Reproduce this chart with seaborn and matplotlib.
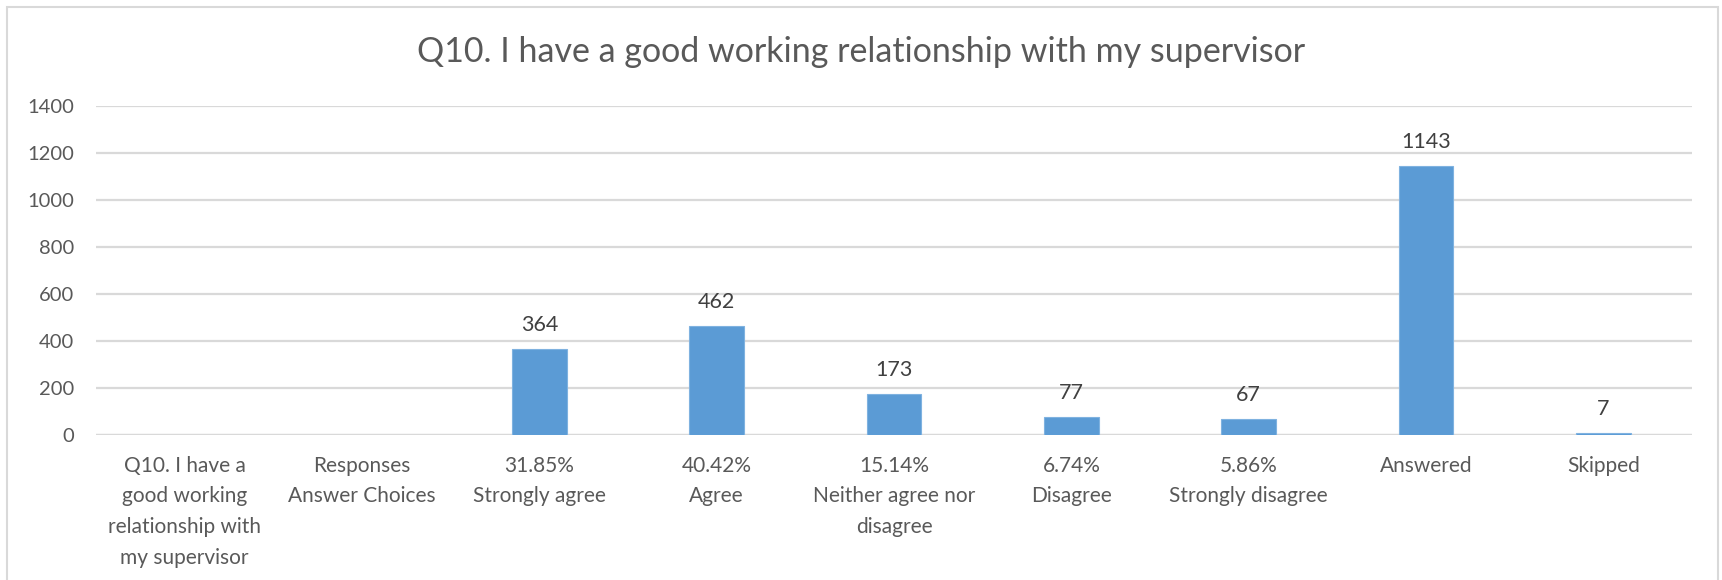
import numpy as np
import pandas as pd
import matplotlib
matplotlib.use("Agg")
import matplotlib.pyplot as plt
from matplotlib.patches import Rectangle
import seaborn as sns

# Survey summary for Q10
categories = [
    "Q10. I have a\ngood working\nrelationship with\nmy supervisor",
    "Responses\nAnswer Choices",
    "31.85%\nStrongly agree",
    "40.42%\nAgree",
    "15.14%\nNeither agree nor\ndisagree",
    "6.74%\nDisagree",
    "5.86%\nStrongly disagree",
    "Answered",
    "Skipped",
]
counts = [np.nan, np.nan, 364, 462, 173, 77, 67, 1143, 7]
y_ticks = [0, 200, 400, 600, 800, 1000, 1200, 1400]
title = "Q10. I have a good working relationship with my supervisor"

sns.set_theme(style="white")
plt.rcParams["font.family"] = ["Lato", "DejaVu Sans"]

W, H = 1722, 580
fig = plt.figure(figsize=(W / 100, H / 100), dpi=100)
ax = fig.add_axes([96 / W, 1 - 435 / H, (1692 - 96) / W, (435 - 106) / H])

df = pd.DataFrame({"category": categories, "count": counts})
sns.barplot(data=df, x="category", y="count", order=categories,
            color="#5b9bd5", saturation=1, width=0.31, ax=ax,
            edgecolor="#7fb2e0", linewidth=0.8, errorbar=None)

ax.set_ylim(0, 1400)
ax.set_yticks(y_ticks)
ax.set_xlim(-0.5, len(categories) - 0.5)
ax.yaxis.grid(True, color="#d9d9d9", linewidth=1.6)
ax.set_axisbelow(True)
for s in ax.spines.values():
    s.set_visible(False)
ax.axhline(0, color="#d9d9d9", linewidth=1.6, zorder=0.5)

ax.set_xlabel("")
ax.set_ylabel("")
ax.tick_params(axis="both", length=0, labelcolor="#595959", labelsize=15)
ax.tick_params(axis="x", pad=15)
ax.tick_params(axis="y", pad=16, labelsize=14.5)
for lbl in ax.get_xticklabels():
    lbl.set_linespacing(1.66)

# Value labels above each bar
for i, v in enumerate(counts):
    if np.isnan(v):
        continue
    ax.annotate(f"{int(v)}", xy=(i, v), xytext=(0, 24), textcoords="offset pixels",
                ha="center", va="center", fontsize=15.5, color="#404040")

fig.text(0.5, 1 - 52 / H, title, ha="center", va="center",
         fontsize=24.5, color="#595959")

# Chart area border
fig.patches.append(Rectangle((7 / W, -0.05), (1718 - 7) / W, 1 - 7 / H + 0.05,
                             transform=fig.transFigure, fill=False,
                             edgecolor="#d9d9d9", linewidth=1.5))

fig.savefig("out.png", dpi=100, facecolor="white")
